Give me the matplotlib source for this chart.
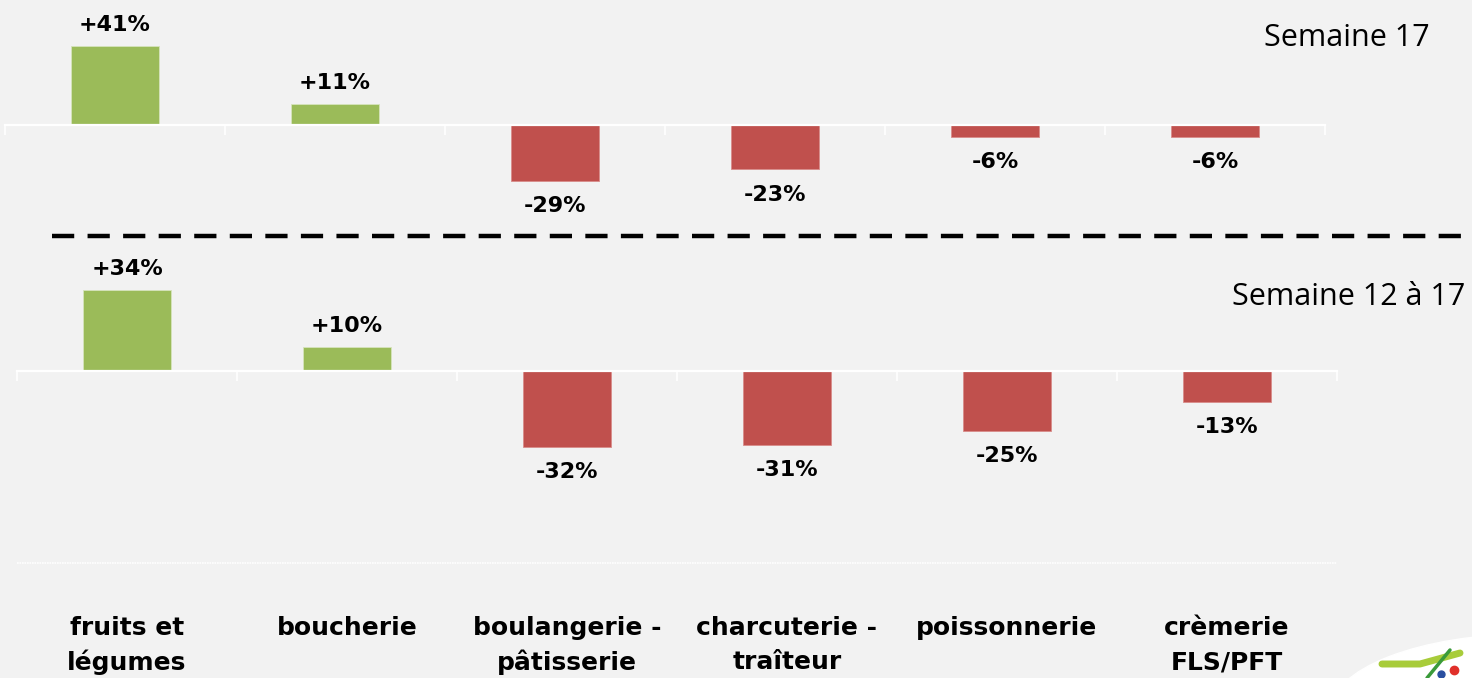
import matplotlib
matplotlib.use("Agg")
import matplotlib.pyplot as plt
from matplotlib.lines import Line2D
from matplotlib.patches import Ellipse

# Données
categories = ["fruits et\nlégumes", "boucherie", "boulangerie -\npâtisserie",
              "charcuterie -\ntraîteur", "poissonnerie", "crèmerie\nFLS/PFT"]
semaine_17 = [41, 11, -29, -23, -6, -6]
semaine_12_17 = [34, 10, -32, -31, -25, -13]
titres = ["Semaine 17", "Semaine 12 à 17"]

W, H = 1472, 678
FOND = "#f2f2f2"
VERT = "#9bbb59"
ROUGE = "#c0504d"


def axes_px(fig, left, right, top, bottom):
    return fig.add_axes([left / W, 1 - bottom / H, (right - left) / W, (bottom - top) / H])


def panneau(ax, valeurs, zero_px, top_px, bottom_px, echelle, grille=None):
    ax.set_facecolor("none")
    x = [i + 0.5 for i in range(len(valeurs))]
    couleurs = [VERT if v >= 0 else ROUGE for v in valeurs]
    bars = ax.bar(x, valeurs, width=0.4, color=couleurs, linewidth=0.6)
    for bar, c in zip(bars, couleurs):
        bar.set_edgecolor("#d6e4bc" if c == VERT else "#d98c8a")
    ax.set_xlim(0, len(valeurs))
    ax.set_ylim(-(bottom_px - zero_px) / echelle, (zero_px - top_px) / echelle)
    for s in ["top", "right", "left"]:
        ax.spines[s].set_visible(False)
    ax.spines["bottom"].set_position(("data", 0))
    ax.spines["bottom"].set_color("white")
    ax.spines["bottom"].set_linewidth(1.6)
    ax.set_xticks(range(len(valeurs) + 1))
    ax.set_xticklabels([])
    ax.tick_params(axis="x", direction="out", length=7, width=1.2, color="white")
    ax.set_yticks([])
    if grille is not None:
        ax.axhline(grille, color="white", linewidth=1.2, linestyle=(0, (1, 0.5)))
    for xi, v in zip(x, valeurs):
        txt = f"+{v}%" if v > 0 else f"{v}%"
        if v >= 0:
            ax.annotate(txt, (xi, v), xytext=(0, 8), textcoords="offset points",
                        ha="center", va="bottom", fontsize=16, fontweight="bold")
        else:
            ax.annotate(txt, (xi, v), xytext=(0, -11), textcoords="offset points",
                        ha="center", va="top", fontsize=16, fontweight="bold")


fig = plt.figure(figsize=(W / 100, H / 100), dpi=100)
fig.patch.set_facecolor(FOND)
plt.rcParams["font.family"] = ["DejaVu Sans"]

ax1 = axes_px(fig, 5, 1325, 0, 230)
panneau(ax1, semaine_17, 125, 0, 230, 1.93)

ax2 = axes_px(fig, 17, 1337, 245, 575)
panneau(ax2, semaine_12_17, 371, 245, 575, 2.38, grille=-80.6)

fig.text(1430 / W, 1 - 38 / H, titres[0], ha="right", va="center",
         fontsize=22, family="Open Sans")
fig.text(1465 / W, 1 - 297 / H, titres[1], ha="right", va="center",
         fontsize=22, family="Open Sans")

# ligne de séparation pointillée
fig.add_artist(Line2D([52 / W, 1], [1 - 236 / H, 1 - 236 / H], transform=fig.transFigure,
                      color="black", linewidth=3.2, linestyle=(0, (5, 3))))

# étiquettes des catégories
for i, cat in enumerate(categories):
    xc = (17 + 220 * (i + 0.5)) / W
    lignes = cat.split("\n")
    fig.text(xc, 1 - 628 / H, lignes[0], ha="center", va="center",
             fontsize=18, fontweight="bold")
    if len(lignes) > 1:
        fig.text(xc, 1 - 662 / H, lignes[1], ha="center", va="center",
                 fontsize=18, fontweight="bold")

# logo approximatif en bas à droite
fig.add_artist(Ellipse((1530 / W, 1 - 712 / H), 400 / W, 156 / H,
                       transform=fig.transFigure, color="white", zorder=0))
fig.add_artist(Line2D([1382 / W, 1420 / W, 1460 / W], [1 - 664 / H, 1 - 664 / H, 1 - 653 / H],
                      transform=fig.transFigure, color="#a8cc3a", linewidth=5,
                      solid_capstyle="round"))
fig.add_artist(Line2D([1427 / W, 1450 / W], [1 - 678 / H, 1 - 650 / H], transform=fig.transFigure,
                      color="#3a9a3a", linewidth=2.5, solid_capstyle="round"))
fig.add_artist(Line2D([1454 / W], [1 - 670 / H], transform=fig.transFigure, marker="o",
                      markersize=6, color="#e0302a", linestyle="none"))
fig.add_artist(Line2D([1441 / W], [1 - 674 / H], transform=fig.transFigure, marker="o",
                      markersize=5, color="#2a4fa0", linestyle="none"))

fig.savefig("out.png", dpi=100, facecolor=FOND)
